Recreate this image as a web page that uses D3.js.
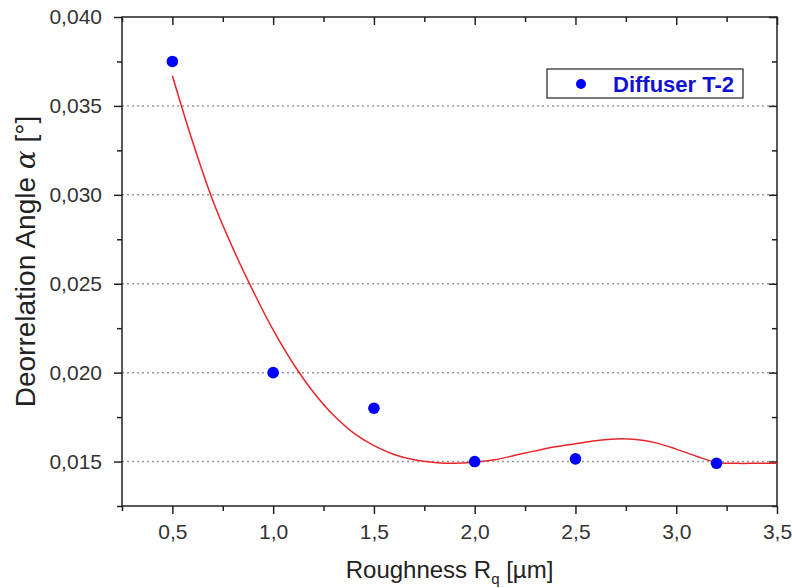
<!DOCTYPE html>
<html>
<head>
<meta charset="utf-8">
<script src="https://cdnjs.cloudflare.com/ajax/libs/d3/7.8.5/d3.min.js"></script>
<style>
  body { margin: 0; background: #fff; }
  text { font-family: Arial, "Liberation Sans", sans-serif; }
</style>
</head>
<body>
<div id="chart"></div>
<script>
(function() {
  // measured points (Diffuser T-2)
  var roughness = [0.5, 1.0, 1.5, 2.0, 2.5, 3.2];
  var angle = [0.0375, 0.0200, 0.0180, 0.0150, 0.01515, 0.0149];

  // red fit curve
  var fitX = [0.5, 0.6, 0.7, 0.8, 0.9, 1.0, 1.1, 1.2, 1.3, 1.4, 1.5, 1.6, 1.7, 1.8, 1.9, 2.0, 2.1, 2.2, 2.3, 2.4, 2.5, 2.6, 2.7, 2.8, 2.9, 3.0, 3.1, 3.2, 3.3, 3.4, 3.5];
  var fitY = [0.0367, 0.0330, 0.0297, 0.0270, 0.0246, 0.0224, 0.0205, 0.0189, 0.0176, 0.0166, 0.0159, 0.0154, 0.01510, 0.01495, 0.01490, 0.01496, 0.0151, 0.01535, 0.0156, 0.01583, 0.0160, 0.01617, 0.01627, 0.01624, 0.01605, 0.0157, 0.0153, 0.01495, 0.0149, 0.0149, 0.0149];

  var xTicks = [0.5, 1.0, 1.5, 2.0, 2.5, 3.0, 3.5];
  var xMinor = [0.25, 0.75, 1.25, 1.75, 2.25, 2.75, 3.25];
  var yTicks = [0.015, 0.020, 0.025, 0.030, 0.035, 0.040];
  var yMinor = [0.0125, 0.0175, 0.0225, 0.0275, 0.0325, 0.0375];

  var width = 792;
  var height = 588;
  var margin = {left: 122, right: 15, top: 17, bottom: 82};

  var svg = d3.select("#chart")
    .append("svg")
    .attr("width", width)
    .attr("height", height);

  var x = d3.scaleLinear().domain([0.25, 3.5]).range([margin.left, width - margin.right]);
  var y = d3.scaleLinear().domain([0.0125, 0.040]).range([height - margin.bottom, margin.top]);

  var fmt = function(d) { return d.toFixed(d < 0.1 ? 3 : 1).replace(".", ","); };

  // dotted grid lines
  svg.append("g")
    .selectAll("line")
    .data(yTicks.slice(0, 5))
    .enter()
    .append("line")
    .attr("x1", x(0.25))
    .attr("x2", x(3.5))
    .attr("y1", function(d) { return y(d); })
    .attr("y2", function(d) { return y(d); })
    .attr("stroke", "#999")
    .attr("stroke-width", 1.5)
    .attr("stroke-dasharray", "2,3");

  // axes
  function styleAxis(g) {
    g.select(".domain").remove();
    g.selectAll("line").attr("stroke", "#222").attr("stroke-width", 1.5);
    g.selectAll("text").attr("fill", "#333").style("font-size", "21px");
  }

  var bottom = y.range()[0], top = y.range()[1];
  var left = x.range()[0], right = x.range()[1];

  svg.append("g").attr("transform", "translate(0," + bottom + ")")
    .call(d3.axisBottom(x).tickValues(xTicks).tickFormat(fmt).tickSize(8).tickPadding(10))
    .call(styleAxis);
  svg.append("g").attr("transform", "translate(0," + bottom + ")")
    .call(d3.axisBottom(x).tickValues(xMinor).tickFormat("").tickSize(5))
    .call(styleAxis);
  svg.append("g").attr("transform", "translate(0," + top + ")")
    .call(d3.axisBottom(x).tickValues(xTicks).tickFormat("").tickSize(8))
    .call(styleAxis);
  svg.append("g").attr("transform", "translate(0," + top + ")")
    .call(d3.axisBottom(x).tickValues(xMinor).tickFormat("").tickSize(5))
    .call(styleAxis);

  svg.append("g").attr("transform", "translate(" + left + ",0)")
    .call(d3.axisLeft(y).tickValues(yTicks).tickFormat(fmt).tickSize(8).tickPadding(12))
    .call(styleAxis);
  svg.append("g").attr("transform", "translate(" + left + ",0)")
    .call(d3.axisLeft(y).tickValues(yMinor).tickFormat("").tickSize(5))
    .call(styleAxis);
  svg.append("g").attr("transform", "translate(" + right + ",0)")
    .call(d3.axisLeft(y).tickValues(yTicks).tickFormat("").tickSize(8))
    .call(styleAxis);
  svg.append("g").attr("transform", "translate(" + right + ",0)")
    .call(d3.axisLeft(y).tickValues(yMinor).tickFormat("").tickSize(5))
    .call(styleAxis);

  // frame
  svg.append("rect")
    .attr("x", left).attr("y", top)
    .attr("width", right - left).attr("height", bottom - top)
    .attr("fill", "none")
    .attr("stroke", "#222")
    .attr("stroke-width", 1.5);

  // fit curve
  var line = d3.line()
    .x(function(d) { return x(d[0]); })
    .y(function(d) { return y(d[1]); })
    .curve(d3.curveCatmullRom.alpha(0.5));
  svg.append("path")
    .datum(d3.zip(fitX, fitY))
    .attr("d", line)
    .attr("fill", "none")
    .attr("stroke", "#e8262a")
    .attr("stroke-width", 1.5);

  // points
  svg.append("g")
    .selectAll("circle")
    .data(d3.zip(roughness, angle))
    .enter()
    .append("circle")
    .attr("cx", function(d) { return x(d[0]); })
    .attr("cy", function(d) { return y(d[1]); })
    .attr("r", 5.8)
    .attr("fill", "#0000ff");

  // legend
  var lg = svg.append("g").attr("transform", "translate(547,69)");
  lg.append("rect")
    .attr("width", 196).attr("height", 29)
    .attr("fill", "#fff").attr("stroke", "#222").attr("stroke-width", 1.2);
  lg.append("circle").attr("cx", 34).attr("cy", 15).attr("r", 5).attr("fill", "#0000ff");
  lg.append("text").attr("x", 66).attr("y", 23)
    .attr("fill", "#1010d0")
    .style("font-size", "22px").style("font-weight", "bold")
    .text("Diffuser T-2");

  // axis titles
  var xt = svg.append("text")
    .attr("x", (left + right) / 2).attr("y", 578)
    .attr("text-anchor", "middle")
    .attr("fill", "#222")
    .style("font-size", "24px");
  xt.append("tspan").text("Roughness R");
  xt.append("tspan").attr("dy", 6).style("font-size", "15px").text("q");
  xt.append("tspan").attr("dy", -6).text(" [µm]");

  var yt = svg.append("text")
    .attr("transform", "translate(35," + ((top + bottom) / 2) + ") rotate(-90)")
    .attr("text-anchor", "middle")
    .attr("fill", "#222")
    .style("font-size", "28px");
  yt.append("tspan").text("Deorrelation Angle ");
  yt.append("tspan").style("font-style", "italic").style("font-family", "'DejaVu Serif', serif").text("α");
  yt.append("tspan").text(" [°]");
})();
</script>
</body>
</html>
